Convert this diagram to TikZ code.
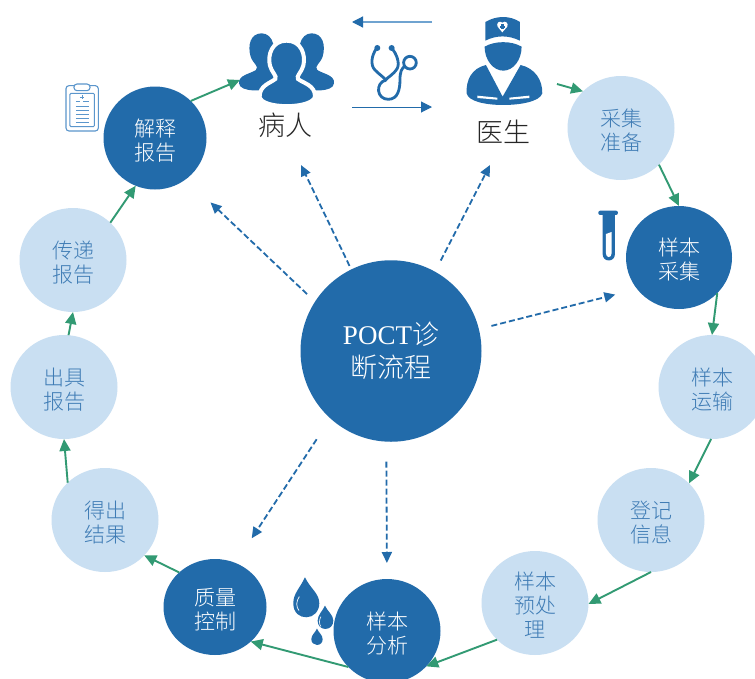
\documentclass[tikz,border=0pt]{standalone}
\usepackage{fontspec}
\setmainfont{Liberation Serif}
\newfontfamily\cjk{Noto Sans CJK SC Light}
\usetikzlibrary{arrows.meta,shapes.geometric}
\definecolor{dk}{HTML}{226BAA}
\definecolor{lt}{HTML}{C9DFF2}
\definecolor{ltxt}{HTML}{3F7CB5}
\definecolor{gr}{HTML}{329A73}
\definecolor{clipc}{HTML}{5B96CC}
\definecolor{paleline}{HTML}{6FA3D0}
\newcommand{\tp}{\rule{0pt}{22.5pt}}
\tikzset{
 x=1pt,y=-1pt,
 base/.style={ellipse,inner sep=0pt,outer sep=0pt,align=center,font=\cjk\fontsize{21}{24}\selectfont},
 darkc/.style={base,fill=dk,text=white,minimum width=103pt,minimum height=103pt},
 lightc/.style={base,fill=lt,text=ltxt,minimum width=107pt,minimum height=104pt},
 garrow/.style={gr,line width=1.9pt,-{Triangle[length=12pt,width=11pt]}},
 darrow/.style={dk,line width=1.8pt,dash pattern=on 6pt off 3pt,-{Triangle[length=11pt,width=10pt]}},
 tarrow/.style={dk,line width=1pt,-{Triangle[length=11pt,width=11pt]}},
 tarrowb/.style={paleline,line width=1.2pt,-{Triangle[length=11pt,width=11pt,color=dk]}},
 who/.style={inner sep=0pt,text=black!85,font=\cjk\fontsize{27}{30}\selectfont},
 zoomed/.style={x=0.3333pt,y=-0.3333pt},
}
\begin{document}
\begin{tikzpicture}
\clip (0,0) rectangle (755,678);
\fill[white] (0,0) rectangle (755,678);

% patient icon
\begin{scope}[zoomed,shift={(660,0)}]
 \fill[dk] (125,100) .. controls (92,100) and (82,135) .. (92,170) .. controls (100,192) and (118,198) .. (108,210) .. controls (90,222) and (55,225) .. (57,250) .. controls (60,278) and (130,274) .. (180,264) -- (180,200) -- (160,132) .. controls (155,112) and (142,100) .. (125,100) -- cycle;
 \fill[dk] (275,100) .. controls (308,100) and (318,135) .. (308,170) .. controls (300,192) and (282,198) .. (292,210) .. controls (310,222) and (345,225) .. (342,250) .. controls (340,278) and (270,274) .. (220,264) -- (220,200) -- (240,132) .. controls (245,112) and (258,100) .. (275,100) -- cycle;
 \fill[dk,draw=white,line width=4pt] (200,122) .. controls (156,122) and (142,165) .. (150,197) .. controls (155,217) and (172,228) .. (166,237) .. controls (150,250) and (119,256) .. (119,290) .. controls (122,328) and (278,328) .. (285,290) .. controls (286,256) and (251,250) .. (234,237) .. controls (228,228) and (245,217) .. (250,197) .. controls (258,165) and (244,122) .. (200,122) -- cycle;
\end{scope}
% doctor icon
\begin{scope}[zoomed,shift={(660,0)}]
 \fill[dk] (796,66) .. controls (830,46) and (870,46) .. (900,66) -- (900,122) .. controls (865,105) and (830,105) .. (796,122) -- cycle;
 \fill[white] (847,68) .. controls (838,60) and (828,70) .. (833,80) -- (847,97) -- (862,80) .. controls (867,70) and (856,60) .. (847,68) -- cycle;
 \fill[dk] (844,72) rectangle (851,88);
 \fill[dk] (839,77) rectangle (856,83);
 \fill[dk] (794,140) .. controls (825,122) and (875,122) .. (905,140) .. controls (905,180) and (880,212) .. (850,212) .. controls (820,212) and (794,180) .. (794,140) -- cycle;
 \fill[dk] (798,195) -- (848,290) -- (902,195) .. controls (945,205) and (968,240) .. (967,280) .. controls (960,305) and (900,315) .. (850,315) .. controls (800,315) and (745,305) .. (740,280) .. controls (738,240) and (755,205) .. (798,195) -- cycle;
 \fill[white] (772,287) -- (832,293) -- (832,299) -- (772,294) -- cycle;
 \fill[white] (868,293) -- (928,287) -- (928,294) -- (868,299) -- cycle;
\end{scope}
% stethoscope
\begin{scope}[zoomed,shift={(660,0)}]
 \draw[dk,line width=2.8pt] (470,145) .. controls (455,165) and (450,195) .. (465,210) .. controls (480,225) and (492,232) .. (497,240) .. controls (502,232) and (520,225) .. (532,205) .. controls (540,190) and (530,160) .. (515,145);
 \draw[dk,line width=2.8pt] (497,240) .. controls (465,250) and (470,298) .. (505,298) .. controls (535,298) and (540,265) .. (540,240) .. controls (540,215) and (545,205) .. (556,197);
 \draw[dk,line width=2.8pt] (570,188) circle (19);
 \fill[dk] (472,144) circle (9);
 \fill[dk] (515,144) circle (9);
\end{scope}
% clipboard
\begin{scope}[zoomed,shift={(120,210)}]
 \draw[clipc,line width=1.1pt,fill=white,rounded corners=3pt] (78,47) rectangle (175,183);
 \draw[clipc,line width=1pt,fill=white,rounded corners=1pt] (90,70) rectangle (163,170);
 \draw[clipc,line width=1.1pt,fill=white,rounded corners=3pt] (102,42) rectangle (150,62);
 \draw[clipc,line width=.8pt] (126,75) -- (126,87) (120,81) -- (132,81)
   (108,95) -- (120,95) (130,95) -- (146,95)
   (108,108) -- (146,108) (108,120) -- (146,120) (108,132) -- (146,132) (108,144) -- (146,144) (108,156) -- (146,156);
\end{scope}
% tube
\begin{scope}[zoomed,shift={(1740,570)}]
 \fill[dk,rounded corners=2pt] (55,62) rectangle (114,75);
 \fill[dk] (68,70) -- (105,70) -- (105,192) .. controls (105,218) and (68,218) .. (68,192) -- cycle;
 \fill[white] (78,132) -- (95,126) -- (95,190) .. controls (95,205) and (78,205) .. (78,190) -- cycle;
\end{scope}
% drops
\begin{scope}[zoomed,shift={(810,1680)}]
 \fill[dk] (105,52) .. controls (90,85) and (70,100) .. (70,130) .. controls (70,160) and (90,172) .. (109,172) .. controls (130,172) and (148,155) .. (148,130) .. controls (148,100) and (120,85) .. (105,52) -- cycle;
 \draw[white,line width=.7pt] (88,110) .. controls (78,125) and (78,140) .. (87,152);
 \fill[dk] (165,137) .. controls (157,155) and (143,165) .. (143,182) .. controls (143,197) and (153,207) .. (166,207) .. controls (180,207) and (190,197) .. (190,182) .. controls (190,165) and (173,155) .. (165,137) -- cycle;
 \draw[white,line width=.6pt] (153,170) .. controls (147,180) and (147,192) .. (153,200);
 \fill[dk] (141,206) .. controls (136,218) and (124,225) .. (124,238) .. controls (124,248) and (132,255) .. (141,255) .. controls (151,255) and (158,248) .. (158,238) .. controls (158,225) and (146,218) .. (141,206) -- cycle;
\end{scope}

\node[darkc] (jieshi) at (155,138) {\tp 解释\\报告};
\node[lightc] (caiji) at (621,128) {\tp 采集\\准备};
\node[darkc,minimum width=106pt] (ybcj) at (679,257.5) {\tp 样本\\采集};
\node[lightc] (ysys) at (712,387) {\tp 样本\\运输};
\node[lightc] (djxx) at (651,520) {\tp 登记\\信息};
\node[lightc] (yucl) at (535,603) {\tp 样本\\预处\\理};
\node[darkc,minimum width=107pt,minimum height=104pt] (ybfx) at (387,631) {\tp 样本\\分析};
\node[darkc,minimum height=96pt] (zlkz) at (215,607) {\tp 质量\\控制};
\node[lightc] (dcjg) at (105,520) {\tp 得出\\结果};
\node[lightc] (cjbg) at (64,387) {\tp 出具\\报告};
\node[lightc] (cdbg) at (73,260) {\tp 传递\\报告};
\node[base,fill=dk,text=white,minimum width=181pt,minimum height=181.5pt,font=\fontsize{27}{33}\selectfont] (poct) at (391,351) {POCT{\cjk 诊}\\{\cjk 断流程}};
\node[who] (patient) at (285,125) {病人};
\node[who] (doctor) at (503,132) {医生};

\coordinate (patientIn) at (240,80);
\coordinate (doctorOut) at (557,84);
\coordinate (patientD) at (301,165);
\coordinate (doctorD) at (490,165);
\coordinate (topR) at (432,22);
\coordinate (topL) at (352,22);
\coordinate (botL) at (352,107);
\coordinate (botR) at (432,107);

\draw[tarrowb] (topR) -- (topL);
\draw[tarrow] (botL) -- (botR);

\draw[garrow] (jieshi.46) -- (patientIn);
\draw[garrow] (doctorOut) -- (caiji.136.5);
\draw[garrow] (caiji.316.6) -- (ybcj.90);
\draw[garrow] (ybcj.317) -- (ysys.90);
\draw[garrow] (ysys.269) -- (djxx.44);
\draw[garrow] (djxx.270) -- (yucl.359);
\draw[garrow] (yucl.224) -- (ybfx.318);
\draw[garrow] (ybfx.223.4) -- (zlkz.316);
\draw[garrow] (zlkz.136) -- (dcjg.318);
\draw[garrow] (dcjg.135) -- (cjbg.270);
\draw[garrow] (cjbg.85.5) -- (cdbg.270);
\draw[garrow] (cdbg.45) -- (jieshi.248);

\draw[darrow,shorten <=11pt,shorten >=33.8pt] (poct.147.5) -- (jieshi.307);
\draw[darrow,shorten <=4pt] (poct.116) -- (patientD);
\draw[darrow,shorten <=12.5pt] (poct.61.3) -- (doctorD);
\draw[darrow,shorten <=13pt,shorten >=22.5pt] (poct.14.1) -- (ybcj.217.8);
\draw[darrow,shorten <=25pt,shorten >=29.5pt] (poct.228) -- (zlkz.65.3);
\draw[darrow,shorten <=20pt,shorten >=16pt] (poct.267.5) -- (ybfx.90);
\end{tikzpicture}
\end{document}
